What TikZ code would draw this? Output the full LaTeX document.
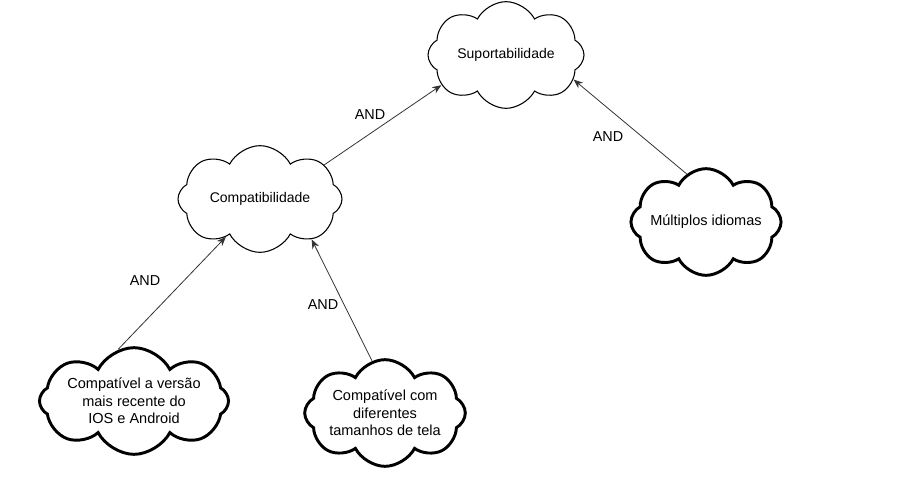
\documentclass[tikz,border=0pt]{standalone}
\usepackage{fontspec}
\setmainfont{Liberation Sans}
\usetikzlibrary{shapes.symbols,arrows.meta}
\begin{document}
\begin{tikzpicture}[x=0.75pt,y=-0.75pt,
  cloudbox/.style={cloud, cloud puffs=8, cloud puff arc=125, cloud ignores aspect, draw=black, fill=white, align=center, inner sep=0pt},
  thincloud/.style={cloudbox, line width=0.8pt, font=\fontsize{10.5}{12.5}\selectfont},
  thickcloud/.style={cloudbox, line width=2.2pt, font=\fontsize{10.9}{13}\selectfont},
  conn/.style={draw=black!80, line width=0.6pt, -{Stealth[length=7pt,width=5.5pt]}},
  andlabel/.style={font=\fontsize{10.8}{12}\selectfont}]
\useasboundingbox (0,0) rectangle (922,493);
\node[thincloud, minimum width=117pt, minimum height=80pt] (sup) at (506,55) {Suportabilidade};
\node[thincloud, minimum width=123pt, minimum height=80pt] (comp) at (260,199) {Compatibilidade};
\node[thickcloud, minimum width=112pt, minimum height=80pt] (bl) at (134,401) {Compatível a versão\\mais recente do\\IOS e Android};
\node[thickcloud, minimum width=118pt, minimum height=80pt] (bm) at (385,413) {Compatível com\\diferentes\\tamanhos de tela};
\node[thickcloud, minimum width=112pt, minimum height=80pt] (mi) at (706,222) {Múltiplos idiomas};
\draw[conn] (bl.107) -- (comp.228);
\draw[conn] (bm.104) -- (comp.322);
\draw[conn] (comp.28) -- (sup.205);
\draw[conn] (mi.112) -- (sup.340);
\node[andlabel] (and1) at (370,115) {AND};
\node[andlabel] (and2) at (608,137) {AND};
\node[andlabel] (and3) at (145,281) {AND};
\node[andlabel] (and4) at (323,305) {AND};
\end{tikzpicture}
\end{document}
